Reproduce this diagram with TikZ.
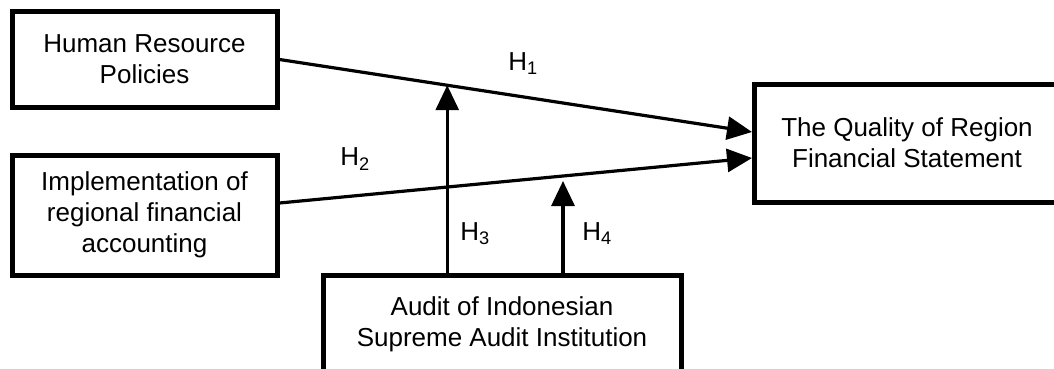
\documentclass[tikz,border=0pt]{standalone}
\usepackage{fontspec}
\setmainfont{Liberation Sans}
\usetikzlibrary{arrows.meta,positioning,calc}

\begin{document}
\begin{tikzpicture}[x=1pt, y=-1pt,
		box/.style={draw, line width=5pt, align=center, inner sep=0pt, font=\fontsize{26}{31}\selectfont},
		link/.style={line width=3.2pt, -{Triangle[length=25pt, width=23pt]}},
		hlabel/.style={font=\fontsize{26}{31}\selectfont}]
		\useasboundingbox (0,0) rectangle (1054,369);
		\clip (0,0) rectangle (1054,369);

		% variables
		\node[box, minimum width=265pt, minimum height=95pt] (hr) at (144.5,59.5) {Human Resource\\Policies};
		\node[box, minimum width=265pt, minimum height=120pt] (impl) at (144.5,215) {Implementation of\\regional financial\\accounting};
		\node[box, minimum width=305pt, minimum height=118pt] (quality) at (907,143) {The Quality of Region\\Financial Statement};
		\node[box, minimum width=358pt, minimum height=98pt] (audit) at (502,324) {Audit of Indonesian\\Supreme Audit Institution};

		% direct effects
		\coordinate (q1) at ($(quality.west)+(0,-11)$);
		\coordinate (q2) at ($(quality.west)+(0,15)$);
		\coordinate (i1) at ($(impl.east)+(0,-12)$);
		\draw[link] (hr.east) -- (q1);
		\draw[link] (i1) -- (q2);

		% moderation
		\coordinate (m1) at ($(hr.east)!0.355!(q1)$);
		\coordinate (m2) at ($(i1)!0.6!(q2)$);
		\draw[link] (audit.north -| m1) -- (m1);
		\draw[link, shorten >=5pt] (audit.north -| m2) -- (m2);

		\node[hlabel] (h1) at (523,64) {H\textsubscript{1}};
		\node[hlabel] (h2) at (355,159) {H\textsubscript{2}};
		\node[hlabel] (h3) at (475,234) {H\textsubscript{3}};
		\node[hlabel] (h4) at (597,234) {H\textsubscript{4}};
	\end{tikzpicture}
\end{document}
